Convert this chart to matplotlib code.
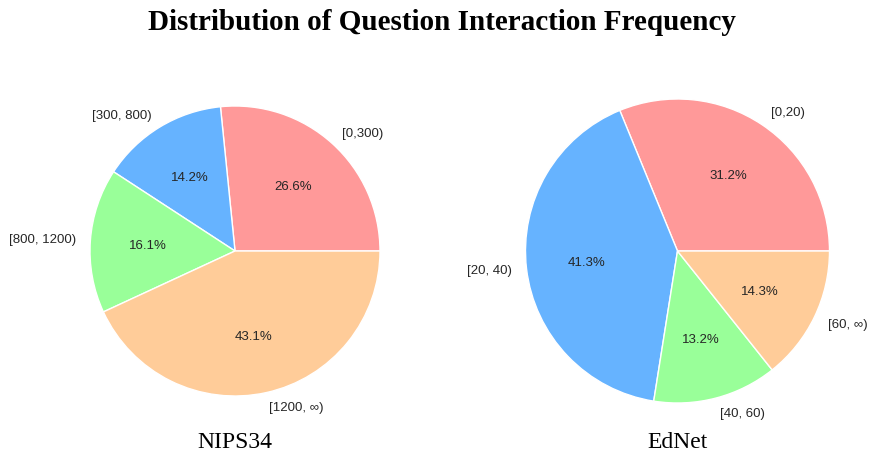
import matplotlib
matplotlib.use('Agg')
import matplotlib.pyplot as plt

# Data
nips_labels = ['[0,300)', '[300, 800)', '[800, 1200)', '[1200, ∞)']
nips_share = [26.6, 14.2, 16.1, 43.1]
ednet_labels = ['[0,20)', '[20, 40)', '[40, 60)', '[60, ∞)']
ednet_share = [31.2, 41.3, 13.2, 14.3]
colors = ['#ff9999', '#66b3ff', '#99ff99', '#ffcc99']

W, H = 871, 456
fig = plt.figure(figsize=(W / 100, H / 100), dpi=100)


def add_pie_axes(cx, cy, r):
    # square axes around pie centre (pixel coords, y from top)
    half = 1.25 * r
    return fig.add_axes([(cx - half) / W, (H - cy - half) / H, 2 * half / W, 2 * half / H])


panels = [
    (nips_share, nips_labels, 'NIPS34', (235, 252, 145)),
    (ednet_share, ednet_labels, 'EdNet', (677.5, 252, 152)),
]

for share, labels, name, (cx, cy, r) in panels:
    ax = add_pie_axes(cx, cy, r)
    wedges, texts, autotexts = ax.pie(
        share, labels=labels, colors=colors, autopct='%1.1f%%',
        startangle=0, wedgeprops=dict(edgecolor='white', linewidth=1),
        textprops=dict(fontsize=9.5, family='Liberation Sans', color='0.15'))
    ax.set_xlim(-1.25, 1.25)
    ax.set_ylim(-1.25, 1.25)
    ax.set_aspect('equal')
    fig.text(cx / W, 1 - 443 / H, name, ha='center', va='center',
             fontsize=17, family='Liberation Serif')

fig.text(442 / W, 1 - 22 / H, 'Distribution of Question Interaction Frequency',
         ha='center', va='center', fontsize=21, fontweight='bold',
         family='Liberation Serif')

fig.savefig('out.png', dpi=100)
